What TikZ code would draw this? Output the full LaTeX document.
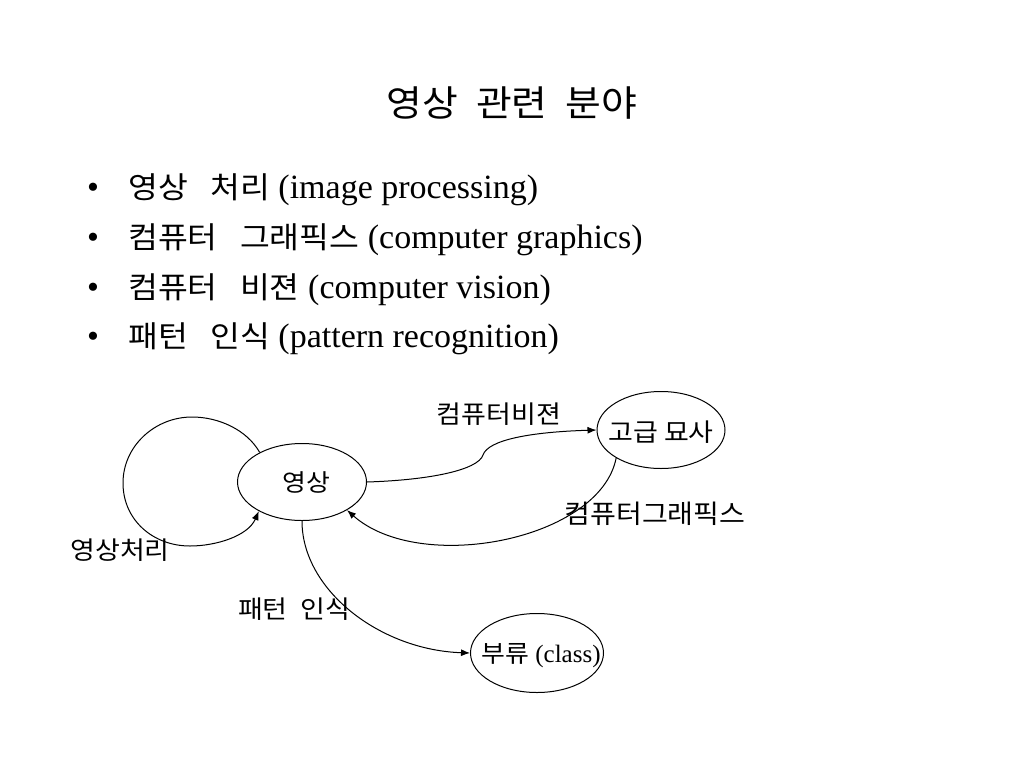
\documentclass[tikz,border=0pt]{standalone}
\usepackage{fontspec}
\setmainfont{Liberation Serif}
\newfontfamily\kr[FakeStretch=1.08]{Noto Sans CJK KR}
\usetikzlibrary{shapes.geometric,arrows.meta}
\newcommand\krsize[2]{\kr\fontsize{#1}{#1}\selectfont\spaceskip#2em\relax}
\newcommand\hg[1]{{\krsize{30}{0.75}#1}}
\tikzset{
  bub/.style={ellipse, draw, line width=1pt, inner sep=0pt},
  kor/.style={inner sep=0pt, font=\krsize{#1}{0.5}},
  lat/.style={inner sep=0pt, font=\fontsize{#1}{#1}\selectfont},
  arr/.style={line width=1pt, -{Latex[length=9pt,width=7pt]}},
}
\begin{document}
\begin{tikzpicture}[x=1pt, y=-1pt]
  \useasboundingbox (0,0) rectangle (1024,768);
  \node[inner sep=0pt, font=\krsize{36}{0.5}, anchor=base] (title) at (512,116) {영상 관련 분야};
  \foreach \n/\yv/\ha/\la in {1/198/영상 처리/image processing,
    2/248/컴퓨터 그래픽스/computer graphics, 3/298/컴퓨터 비젼/computer vision,
    4/347/패턴 인식/pattern recognition}
  {
    \node[lat=34, anchor=base] (dot\n) at (93,\yv) {\textbullet};
    \node[lat=34, anchor=base west] (item\n) at (128,\yv) {\hg{\ha} (\la)};
  }
  \node[bub, minimum width=129pt, minimum height=77pt] (img) at (302,482) {};
  \node[kor=24] (imgt) at (306,482) {영상};
  \node[bub, minimum width=128pt, minimum height=77pt] (hl) at (661,430) {};
  \node[inner sep=0pt, font=\krsize{25}{0.25}] (hlt) at (661,432) {고급 묘사};
  \node[bub, minimum width=133pt, minimum height=79pt] (cls) at (537,653) {};
  \node[lat=25, anchor=base] (clst) at (541,662) {{\kr\fontsize{24}{24}\selectfont 부류} (class)};
  \node[kor=25] (cv) at (499,414) {컴퓨터비젼};
  \node[kor=26] (cg) at (655,514) {컴퓨터그래픽스};
  \node[kor=25] (ip) at (120,550) {영상처리};
  \node[kor=25] (pr) at (294,609) {패턴 인식};
  \draw[arr] (img.145) .. controls (247,430) and (219,417) .. (192,417)
    .. controls (155,417) and (123,446) .. (123,483)
    .. controls (123,520) and (153,546) .. (190,546)
    .. controls (216,546) and (248,536) .. (img.214);
  \draw[arr] (img.east) .. controls (430,480) and (478,470) .. (483,455)
    .. controls (488,440) and (530,432) .. (hl.west);
  \draw[arr] (hl.212) .. controls (600,540) and (420,575) .. (img.-32);
  \draw[arr] (img.south) .. controls (302,590) and (380,650) .. (cls.west);
\end{tikzpicture}
\end{document}
